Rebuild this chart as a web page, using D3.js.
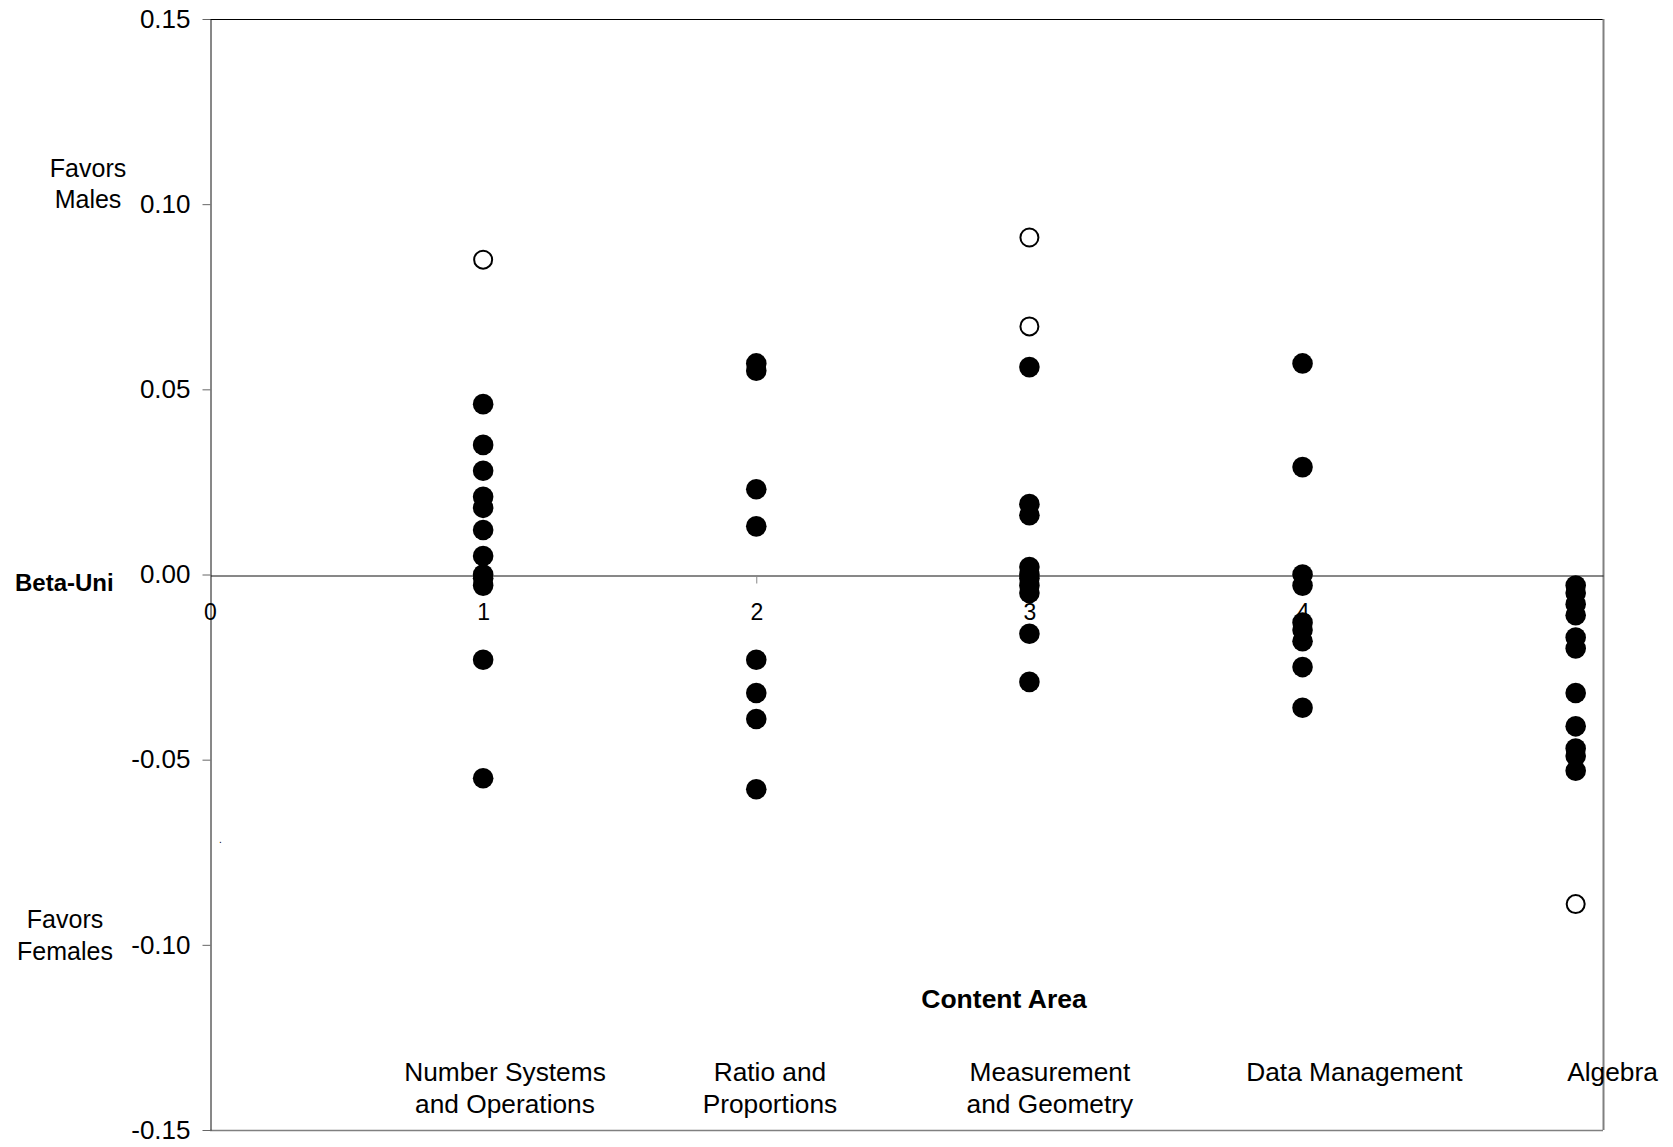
<!DOCTYPE html>
<html>
<head>
<meta charset="utf-8">
<script src="https://cdnjs.cloudflare.com/ajax/libs/d3/7.8.5/d3.min.js"></script>
<style>
  html, body { margin: 0; padding: 0; background: #fff; }
  svg { display: block; }
  text { font-family: "Liberation Sans", Arial, sans-serif; fill: #000; }
</style>
</head>
<body>
<svg id="chart" width="1673" height="1147"></svg>
<script>
// Content areas, their position on the numeric x axis, and the item-level Beta-Uni values
const categories = [
  ["Number Systems", "and Operations"],
  ["Ratio and", "Proportions"],
  ["Measurement", "and Geometry"],
  ["Data Management"],
  ["Algebra"]
];
const categoryPos = [1, 2, 3, 4, 5];

// Items shown as filled dots
const betaFilled = [
  [0.046, 0.035, 0.028, 0.021, 0.018, 0.012, 0.005, 0.000, -0.001, -0.003, -0.023, -0.055],
  [0.057, 0.055, 0.023, 0.013, -0.023, -0.032, -0.039, -0.058],
  [0.056, 0.019, 0.016, 0.002, 0.000, -0.001, -0.003, -0.005, -0.016, -0.029],
  [0.057, 0.029, 0.000, -0.003, -0.013, -0.015, -0.018, -0.025, -0.036],
  [-0.003, -0.005, -0.008, -0.011, -0.017, -0.020, -0.032, -0.041, -0.047, -0.049, -0.053]
];
// Items shown as open circles
const betaOpen = [
  [0.085],
  [],
  [0.091, 0.067],
  [],
  [-0.089]
];

const yTickValues = [0.15, 0.10, 0.05, 0.00, -0.05, -0.10, -0.15];
const yTickLabels = ["0.15", "0.10", "0.05", "0.00", "-0.05", "-0.10", "-0.15"];
const xTickValues = [0, 1, 2, 3, 4, 5];
const xTickLabels = ["0", "1", "2", "3", "4", "5"];

// Layout
const plot = { left: 210, right: 1603, top: 19, bottom: 1130 };
const svg = d3.select("#chart");

const x = d3.scaleLinear().domain([0, 5.1]).range([plot.left, plot.right]);
const y = d3.scaleLinear().domain([-0.15, 0.15]).range([plot.bottom, plot.top]);

// Plot frame
svg.append("line").attr("x1", plot.left).attr("x2", plot.right).attr("y1", plot.top + 0.5).attr("y2", plot.top + 0.5)
  .attr("stroke", "#000").attr("stroke-width", 1);
svg.append("line").attr("x1", plot.right + 0.5).attr("x2", plot.right + 0.5).attr("y1", plot.top).attr("y2", plot.bottom)
  .attr("stroke", "#808080").attr("stroke-width", 2);
svg.append("line").attr("x1", plot.left).attr("x2", plot.right).attr("y1", plot.bottom + 0.5).attr("y2", plot.bottom + 0.5)
  .attr("stroke", "#808080").attr("stroke-width", 1.5);

// Y axis
const yAxis = d3.axisLeft(y)
  .tickValues(yTickValues)
  .tickFormat((d, i) => yTickLabels[i])
  .tickSize(8)
  .tickSizeOuter(0)
  .tickPadding(12);
const gy = svg.append("g").attr("transform", `translate(${plot.left + 0.5},0)`).call(yAxis);
gy.select(".domain").attr("stroke", "#111");
gy.selectAll(".tick line").attr("stroke", "#666");
gy.selectAll(".tick text").style("font-size", "26px").attr("font-family", null);

// X axis drawn along zero
const xAxis = d3.axisBottom(x)
  .tickValues(xTickValues)
  .tickFormat((d, i) => xTickLabels[i])
  .tickSize(8)
  .tickSizeOuter(0)
  .tickPadding(20);
const gx = svg.append("g").attr("transform", `translate(0,${Math.round(y(0)) + 0.5})`).call(xAxis);
gx.select(".domain").attr("stroke", "#111");
gx.selectAll(".tick line").attr("stroke", "#888");
gx.selectAll(".tick text").style("font-size", "23px").attr("font-family", null);

// Side annotations
const side = svg.append("g");
side.append("text").attr("x", 88).attr("y", 177).attr("text-anchor", "middle").style("font-size", "25px").text("Favors");
side.append("text").attr("x", 88).attr("y", 208).attr("text-anchor", "middle").style("font-size", "25px").text("Males");
side.append("text").attr("x", 15).attr("y", 591).style("font-size", "24px").style("font-weight", "bold").text("Beta-Uni");
side.append("text").attr("x", 65).attr("y", 928).attr("text-anchor", "middle").style("font-size", "25px").text("Favors");
side.append("text").attr("x", 65).attr("y", 960).attr("text-anchor", "middle").style("font-size", "25px").text("Females");
side.append("text").attr("x", 219).attr("y", 843).style("font-size", "10px").text(".");

// X axis title
svg.append("text").attr("x", 1004).attr("y", 1008).attr("text-anchor", "middle")
  .style("font-size", "26.5px").style("font-weight", "bold").text("Content Area");

// Content area names beneath the plot (offsets in axis units)
const labelOffset = [0.08, 0.05, 0.075, 0.19, 0.135];
const catLabels = svg.append("g");
categories.forEach((lines, i) => {
  const t = catLabels.append("text")
    .attr("x", x(categoryPos[i] + labelOffset[i]))
    .attr("y", 1081)
    .attr("text-anchor", "middle")
    .style("font-size", "26.3px");
  lines.forEach((ln, j) => {
    t.append("tspan").attr("x", x(categoryPos[i] + labelOffset[i])).attr("dy", j === 0 ? 0 : 32).text(ln);
  });
});

// Points
const filledPts = [];
const openPts = [];
betaFilled.forEach((vals, i) => vals.forEach(v => filledPts.push({ c: categoryPos[i], v })));
betaOpen.forEach((vals, i) => vals.forEach(v => openPts.push({ c: categoryPos[i], v })));

svg.append("g").selectAll("circle").data(filledPts).join("circle")
  .attr("cx", d => x(d.c))
  .attr("cy", d => y(d.v))
  .attr("r", 10.3)
  .attr("fill", "#000");

svg.append("g").selectAll("circle").data(openPts).join("circle")
  .attr("cx", d => x(d.c))
  .attr("cy", d => y(d.v))
  .attr("r", 9)
  .attr("fill", "#fff")
  .attr("stroke", "#000")
  .attr("stroke-width", 2);
</script>
</body>
</html>
